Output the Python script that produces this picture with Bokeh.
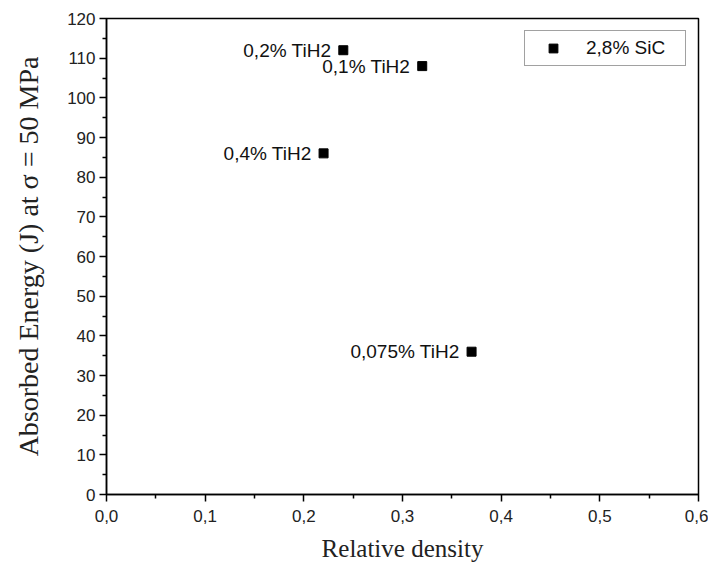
from bokeh.plotting import figure
from bokeh.models import (ColumnDataSource, Range1d, FixedTicker, CustomJSTickFormatter,
                          Legend, LegendItem, LabelSet)
from bokeh.core.properties import value
from bokeh.embed import file_html
from bokeh.resources import INLINE

# data
density = [0.24, 0.32, 0.22, 0.37]
energy = [112, 108, 86, 36]
labels = ["0,2% TiH2", "0,1% TiH2", "0,4% TiH2", "0,075% TiH2"]
series_name = "2,8% SiC"
x_ticks = [0.0, 0.1, 0.2, 0.3, 0.4, 0.5, 0.6]
x_minor = [0.05, 0.15, 0.25, 0.35, 0.45, 0.55]
y_ticks = list(range(0, 121, 10))
y_minor = list(range(5, 120, 10))

src = ColumnDataSource(dict(x=density, y=energy, lab=labels))

p = figure(width=708, height=564, output_backend="svg", toolbar_location=None,
           x_range=Range1d(0, 0.6), y_range=Range1d(0, 120),
           min_border_left=106, min_border_right=10, min_border_top=18, min_border_bottom=67)
p.grid.visible = False
p.outline_line_color = "black"
p.outline_line_width = 1.5
p.background_fill_color = "white"
p.border_fill_color = "white"

r = p.scatter("x", "y", source=src, marker="square", size=9, color="black")

lbl = LabelSet(x="x", y="y", text="lab", source=src, x_offset=-12, y_offset=0,
               text_align="right", text_baseline="middle",
               text_font=value("Liberation Sans"), text_font_size="19px", text_color="#111111")
p.add_layout(lbl)

for ax, ticks, minor in ((p.xaxis[0], x_ticks, x_minor), (p.yaxis[0], y_ticks, y_minor)):
    ax.ticker = FixedTicker(ticks=ticks, minor_ticks=minor)
    ax.axis_line_color = "black"
    ax.axis_line_width = 1.5
    ax.major_tick_line_color = "black"
    ax.major_tick_line_width = 1.5
    ax.minor_tick_line_color = "black"
    ax.minor_tick_line_width = 1.5
    ax.major_tick_out = 7
    ax.major_tick_in = 0
    ax.minor_tick_out = 4
    ax.minor_tick_in = 0
    ax.major_label_text_font = "Liberation Sans"
    ax.major_label_text_font_size = "17px"
    ax.major_label_text_color = "#222222"
    ax.axis_label_text_font = "Liberation Serif"
    ax.axis_label_text_font_style = "normal"
    ax.axis_label_text_color = "#222222"

p.xaxis[0].formatter = CustomJSTickFormatter(code="return tick.toFixed(1).replace('.', ',');")
p.xaxis[0].axis_label = "Relative density"
p.xaxis[0].axis_label_text_font_size = "25px"
p.xaxis[0].major_label_standoff = 8
p.xaxis[0].axis_label_standoff = 10
p.yaxis[0].axis_label = "Absorbed Energy (J) at σ = 50 MPa"
p.yaxis[0].axis_label_text_font_size = "28px"
p.yaxis[0].major_label_standoff = 4
p.yaxis[0].axis_label_standoff = 20

legend = Legend(items=[LegendItem(label=series_name, renderers=[r])],
                location="top_right", margin=12, padding=6,
                glyph_width=44, glyph_height=22, label_standoff=11, label_width=93,
                label_text_font="Liberation Sans", label_text_font_size="19px",
                label_text_color="#111111",
                border_line_color="#444444", border_line_width=1,
                background_fill_alpha=1.0)
p.add_layout(legend)

open("out.html", "w").write(file_html(p, INLINE))
